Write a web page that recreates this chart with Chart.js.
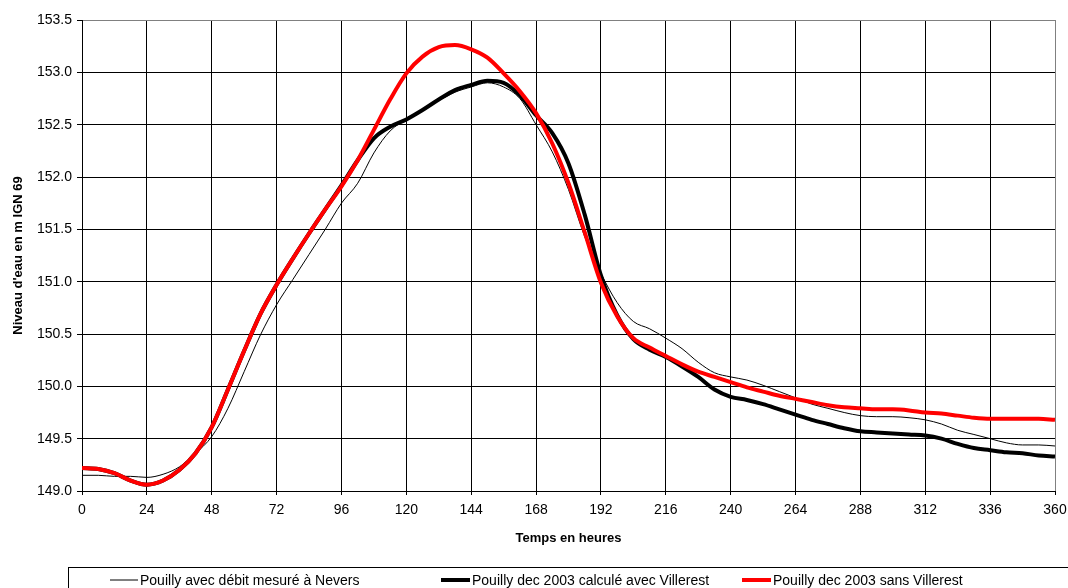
<!DOCTYPE html>
<html><head><meta charset="utf-8">
<script src="https://cdn.jsdelivr.net/npm/chart.js@4.4.1/dist/chart.umd.min.js"></script>
<style>html,body{margin:0;padding:0;background:#fff}#wrap{width:1068px;height:588px;position:relative}</style>
</head><body><div id="wrap"><canvas id="c" width="1068" height="588"></canvas></div>
<script>
const hours = [0,6,12,18,24,30,36,42,48,54,60,66,72,78,84,90,96,102,108,114,120,126,132,138,144,150,156,162,168,174,180,186,192,198,204,210,216,222,228,234,240,246,252,258,264,270,276,282,288,294,300,306,312,318,324,330,336,342,348,354,360];
const neversMesure = [149.15,149.15,149.14,149.14,149.13,149.16,149.23,149.36,149.52,149.79,150.14,150.49,150.78,151.02,151.26,151.50,151.75,151.94,152.23,152.44,152.55,152.64,152.73,152.81,152.86,152.90,152.86,152.75,152.50,152.24,151.88,151.43,151.08,150.80,150.62,150.55,150.46,150.36,150.23,150.13,150.09,150.06,150.01,149.95,149.89,149.83,149.79,149.75,149.72,149.71,149.71,149.70,149.68,149.64,149.58,149.54,149.50,149.46,149.44,149.44,149.43];
const avecVillerest = [149.22,149.21,149.17,149.10,149.06,149.10,149.20,149.36,149.61,149.97,150.34,150.69,150.97,151.22,151.46,151.69,151.92,152.16,152.37,152.48,152.55,152.64,152.74,152.83,152.88,152.92,152.90,152.78,152.59,152.42,152.13,151.64,151.06,150.68,150.45,150.35,150.28,150.19,150.09,149.97,149.90,149.87,149.83,149.78,149.73,149.68,149.64,149.60,149.57,149.56,149.55,149.54,149.53,149.50,149.45,149.41,149.39,149.37,149.36,149.34,149.33];
const sansVillerest = [149.22,149.21,149.17,149.10,149.06,149.10,149.20,149.36,149.61,149.97,150.34,150.69,150.97,151.22,151.46,151.69,151.91,152.16,152.45,152.74,152.99,153.15,153.24,153.26,153.22,153.14,152.99,152.82,152.61,152.32,151.94,151.47,150.99,150.67,150.46,150.37,150.29,150.21,150.14,150.09,150.04,149.99,149.95,149.91,149.88,149.85,149.82,149.80,149.79,149.78,149.78,149.77,149.75,149.74,149.72,149.70,149.69,149.69,149.69,149.69,149.68];
const seriesLabels = ["Pouilly avec débit mesuré à Nevers","Pouilly dec 2003 calculé avec Villerest","Pouilly dec 2003 sans Villerest"];
const xTitle = "Temps en heures";
const yTitle = "Niveau d'eau en m IGN 69";

const FONT = "'Liberation Sans', Arial, sans-serif";
function pts(arr){ return hours.map((h,i)=>({x:h,y:arr[i]})); }

const legendBox = {
  id:'legendBox',
  afterDraw(chart){
    const ctx = chart.ctx;
    ctx.save();
    ctx.strokeStyle = '#000'; ctx.lineWidth = 1;
    ctx.strokeRect(68.5, 567.5, 1100, 40);
    const pos = [[110,140],[441,472],[742,773]];
    ctx.font = "14px " + FONT;
    ctx.textBaseline = 'middle';
    ctx.fillStyle = '#000';
    chart.data.datasets.forEach((ds,i)=>{
      ctx.beginPath();
      ctx.strokeStyle = ds.borderColor;
      ctx.lineWidth = ds.borderWidth;
      ctx.lineCap = 'butt';
      ctx.moveTo(pos[i][0], 580);
      ctx.lineTo(pos[i][1]-2, 580);
      ctx.stroke();
      ctx.fillText(ds.label, pos[i][1], 581);
    });
    ctx.restore();
  }
};

new Chart(document.getElementById('c'), {
  type:'line',
  data:{ datasets:[
    {label:seriesLabels[0], data:pts(neversMesure), borderColor:'#000000', borderWidth:1, order:1},
    {label:seriesLabels[1], data:pts(avecVillerest), borderColor:'#000000', borderWidth:4, order:2},
    {label:seriesLabels[2], data:pts(sansVillerest), borderColor:'#ff0000', borderWidth:4, order:0}
  ]},
  options:{
    responsive:false, animation:false, devicePixelRatio:1,
    layout:{padding:{left:0, top:20, right:13, bottom:21}, autoPadding:false},
    elements:{point:{radius:0}, line:{cubicInterpolationMode:'monotone', fill:false}},
    plugins:{legend:{display:false}, tooltip:{enabled:false}},
    scales:{
      x:{type:'linear', min:0, max:360,
        afterFit(s){ s.height = 76; s.paddingLeft = 0; s.paddingRight = 0; },
        ticks:{stepSize:24, color:'#000', font:{family:FONT, size:14}, padding:7, maxRotation:0, autoSkip:false},
        grid:{color:(c)=> c.tick && c.tick.value===360 ? '#808080' : '#000', lineWidth:1, tickLength:4, tickColor:'#000'},
        border:{display:true, color:'#000', width:1},
        title:{display:true, text:xTitle, color:'#000', font:{family:FONT, size:13, weight:'bold'}, padding:{top:0,bottom:21}}
      },
      y:{type:'linear', min:149, max:153.5,
        afterFit(s){ s.width = 82; s.paddingTop = 0; s.paddingBottom = 0; },
        ticks:{stepSize:0.5, color:'#000', font:{family:FONT, size:14}, padding:5, callback:(v)=>Number(v).toFixed(1)},
        grid:{color:(c)=> c.tick && c.tick.value===153.5 ? '#808080' : '#000', lineWidth:1, tickLength:5, tickColor:'#000'},
        border:{display:true, color:'#000', width:1},
        title:{display:true, text:yTitle, color:'#000', font:{family:FONT, size:13, weight:'bold'}, padding:{top:11,bottom:0}}
      }
    }
  },
  plugins:[legendBox]
});
</script>
</body></html>
